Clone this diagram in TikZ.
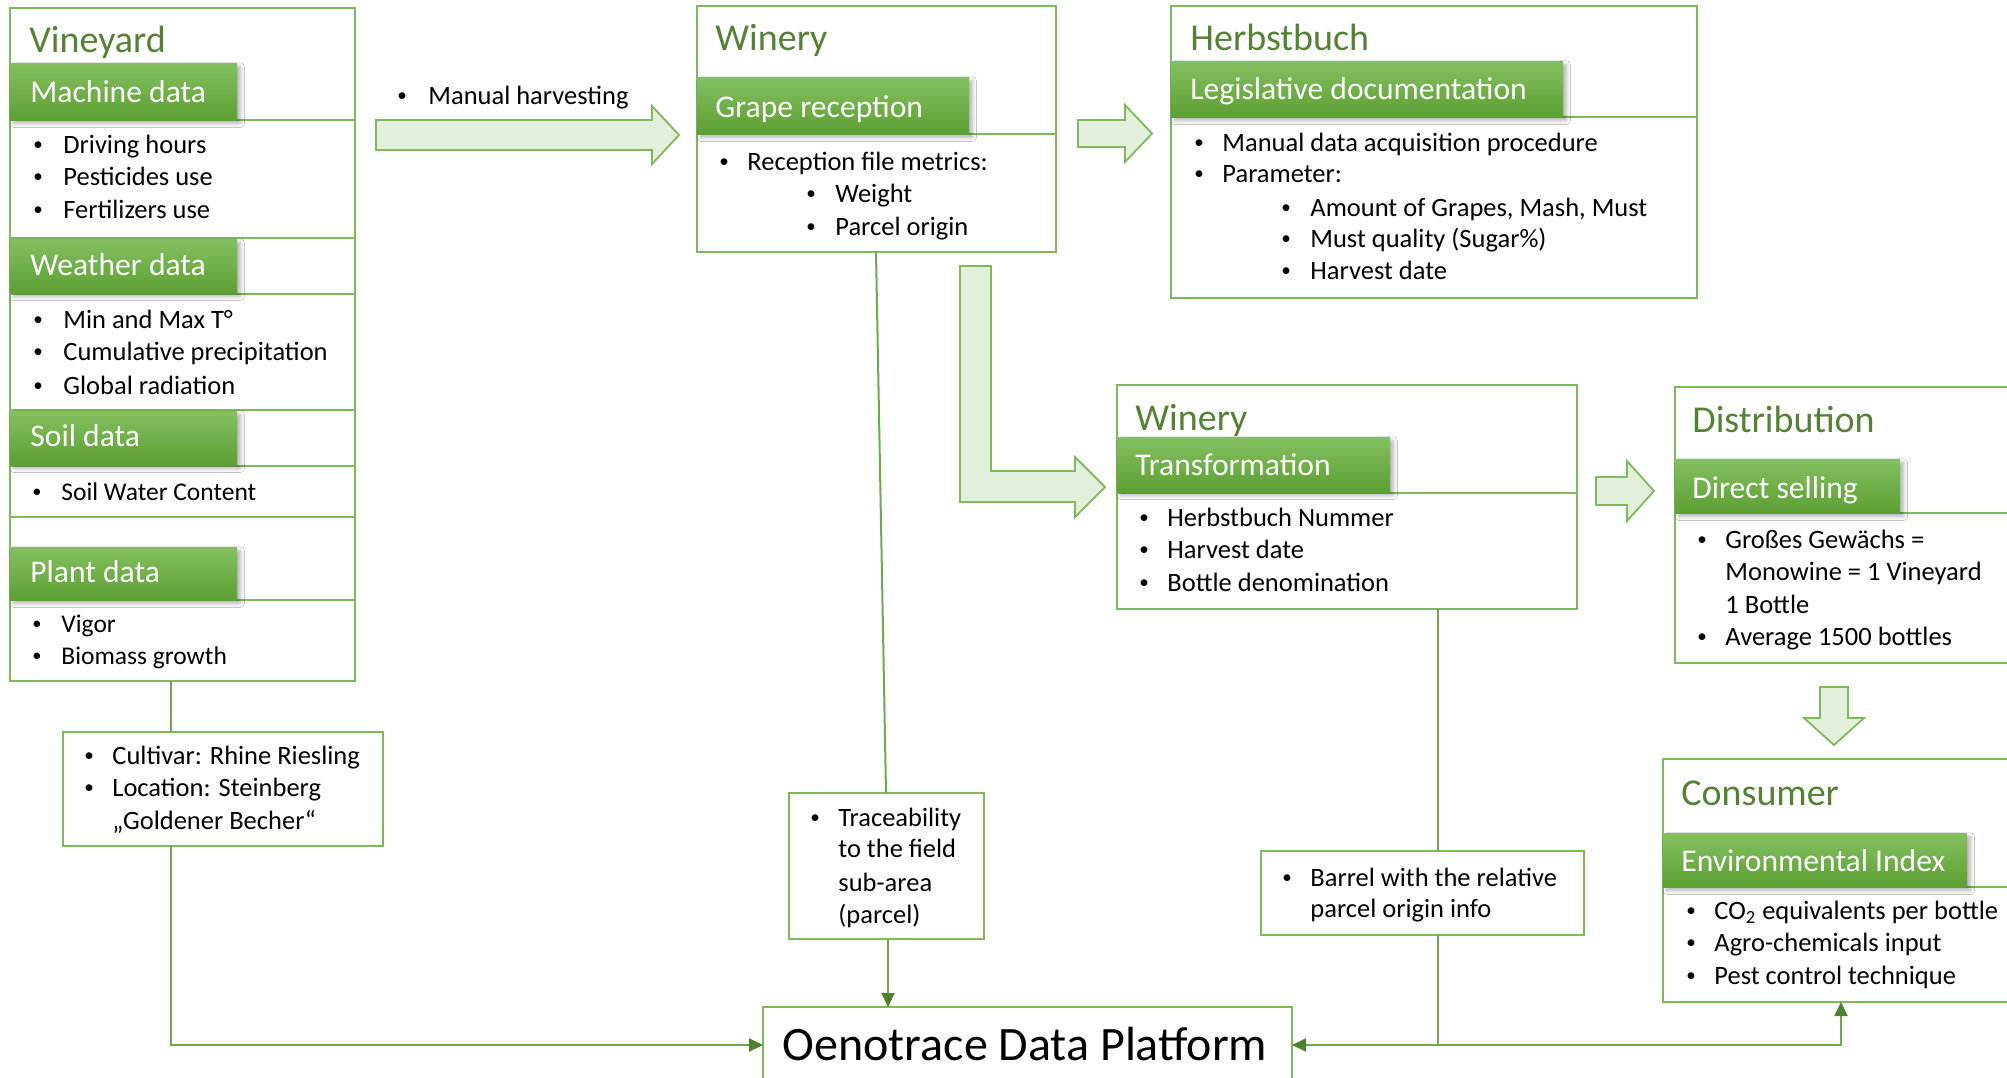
\documentclass[tikz,border=0pt]{standalone}
\usepackage{fontspec}
\setmainfont{Carlito}
\usetikzlibrary{arrows.meta,shadows.blur}
\definecolor{bord}{RGB}{125,186,90}
\definecolor{ttl}{RGB}{84,130,53}
\definecolor{bartop}{RGB}{132,192,96}
\definecolor{barbot}{RGB}{92,159,50}
\definecolor{afill}{RGB}{226,239,218}
\definecolor{aline}{RGB}{125,186,90}
\definecolor{conn}{RGB}{112,168,78}
\definecolor{tipc}{RGB}{78,128,45}
\newcounter{itm}
\newcommand\mkbox[6][]{\node[boxs,#1,minimum width={(#4-#2)*0.5pt},minimum height={(#5-#3)*0.5pt}] (#6) at (#2,#3) {};}
\newcommand\mkbar[5]{\node[barst,minimum width={(#3-#1)*0.5pt},minimum height={(#4-#2)*0.5pt}] (#5) at (#1,#2) {};}
\newcommand\smbul{\raisebox{0.1em}{\scalebox{0.72}{\textbullet}}}
\newcommand\itm[5][bod]{\stepcounter{itm}\node[#1] (bu\theitm) at (#2,#4) {\smbul};\node[#1] (it\theitm) at (#3,#4) {#5};}
\newcommand\ctn[4][bod]{\stepcounter{itm}\node[#1] (it\theitm) at (#2,#3) {#4};}
\tikzset{
  boxs/.style={rectangle,draw=bord,line width=0.9pt,fill=white,anchor=north west,inner sep=0pt,outer sep=0pt},
  barst/.style={rectangle,anchor=north west,inner sep=0pt,outer sep=0pt,top color=bartop,bottom color=barbot,
     blur shadow={shadow xshift=1.8pt,shadow yshift=-1.8pt,shadow opacity=30,shadow blur steps=6}},
  ttlt/.style={anchor=base west,inner sep=0pt,font=\fontsize{19}{23}\selectfont,text=ttl,yshift=-6.1pt},
  bart/.style={anchor=base west,inner sep=0pt,font=\fontsize{15.8}{19}\selectfont,text=white,yshift=-5.05pt},
  bod/.style={anchor=base west,inner sep=0pt,font=\fontsize{13.25}{16}\selectfont,yshift=-4.25pt},
  bods/.style={anchor=base west,inner sep=0pt,font=\fontsize{12.75}{15}\selectfont,yshift=-4.1pt},
  blk/.style={draw=aline,fill=afill,line width=0.9pt,line join=miter},
  cn/.style={draw=conn,line width=1pt},
  tp/.tip={Triangle[length=7pt,width=6.5pt,color=tipc]}
}
\begin{document}
\begin{tikzpicture}[x=0.5pt,y=-0.5pt]
\useasboundingbox (0,0) rectangle (2007,1077);
\clip (0,0) rectangle (2007,1077);
\fill[white] (0,0) rectangle (2007,1077);

% ---------- Vineyard ----------
\mkbox{10}{8}{355}{681}{vine}
\mkbox{10}{120}{355}{238}{mc}
\mkbox{10}{294}{355}{410}{wc}
\mkbox{10}{466}{355}{517}{sc}
\mkbox{10}{600}{355}{681}{pc}
\mkbar{10}{63}{237}{120}{mbar}
\mkbar{10}{239}{237}{293}{wbar}
\mkbar{10}{411}{237}{465}{sbar}
\mkbar{10}{547}{237}{600}{pbar}
\node[ttlt] (vineT) at (29,40) {Vineyard};
\node[bart] (mbarT) at (30,92) {Machine data};
\node[bart] (wbarT) at (30,265) {Weather data};
\node[bart] (sbarT) at (30,436) {Soil data};
\node[bart] (pbarT) at (30,572) {Plant data};
\itm{33}{63}{145}{Driving hours}
\itm{33}{63}{177}{Pesticides use}
\itm{33}{63}{210}{Fertilizers use}
\itm{33}{63}{320}{Min and Max T°}
\itm{33}{63}{352}{Cumulative precipitation}
\itm{33}{63}{386}{Global radiation}
\itm[bods]{32}{61}{492}{Soil Water Content}
\itm[bods]{32}{61}{624}{Vigor}
\itm[bods]{32}{61}{656}{Biomass growth}

% ---------- Cultivar ----------
\mkbox{63}{732}{383}{846}{cult}
\itm{84}{112}{756}{Cultivar: Rhine Riesling}
\itm{84}{112}{788}{Location: Steinberg}
\ctn{112}{821}{„Goldener Becher“}

% ---------- Manual harvesting arrow ----------
\itm{397}{428}{96}{Manual harvesting}
\draw[blk] (376,120) -- (652,120) -- (652,106) -- (679,135) -- (652,164) -- (652,150) -- (376,150) -- cycle;

% ---------- Winery (grape reception) ----------
\mkbox{697}{6}{1056}{252}{win1}
\mkbox{697}{134}{1056}{252}{gc}
\mkbar{697}{77}{969}{134}{gbar}
\node[ttlt] (win1T) at (715,38) {Winery};
\node[bart] (gbarT) at (715,107) {Grape reception};
\itm{719}{747}{162}{Reception file metrics:}
\itm{806}{835}{194}{Weight}
\itm{806}{835}{227}{Parcel origin}

% ---------- arrow to Herbstbuch ----------
\draw[blk] (1078,120) -- (1125,120) -- (1125,105) -- (1152,133.5) -- (1125,162) -- (1125,147) -- (1078,147) -- cycle;

% ---------- Herbstbuch ----------
\mkbox{1171}{6}{1697}{298}{herb}
\mkbox{1171}{117}{1697}{298}{lc}
\mkbar{1171}{61}{1563}{117}{lbar}
\node[ttlt] (herbT) at (1190,38) {Herbstbuch};
\node[bart] (lbarT) at (1190,89) {Legislative documentation};
\itm{1194}{1222}{143}{Manual data acquisition procedure}
\itm{1194}{1222}{174}{Parameter:}
\itm{1281}{1310}{208}{Amount of Grapes, Mash, Must}
\itm{1281}{1310}{239}{Must quality (Sugar\%)}
\itm{1281}{1310}{271}{Harvest date}

% ---------- L-shaped arrow ----------
\draw[blk] (960,266) -- (991,266) -- (991,471) -- (1075,471) -- (1075,457) -- (1105,487) -- (1075,517) -- (1075,502) -- (960,502) -- cycle;

% ---------- Winery (transformation) ----------
\mkbox{1117}{385}{1577}{609}{win2}
\mkbox{1117}{493}{1577}{609}{tc}
\mkbar{1117}{437}{1390}{492}{tbar}
\node[ttlt] (win2T) at (1135,418) {Winery};
\node[bart] (tbarT) at (1135,465) {Transformation};
\itm{1139}{1167}{518}{Herbstbuch Nummer}
\itm{1139}{1167}{550}{Harvest date}
\itm{1139}{1167}{583}{Bottle denomination}

% ---------- arrow to Distribution ----------
\draw[blk] (1596,477) -- (1627,477) -- (1627,461) -- (1654,491) -- (1627,521) -- (1627,505) -- (1596,505) -- cycle;

% ---------- Distribution ----------
\mkbox{1675}{387}{2030}{663}{dist}
\mkbox{1675}{513}{2030}{663}{dc}
\mkbar{1675}{459}{1900}{513}{dbar}
\node[ttlt] (distT) at (1692,420) {Distribution};
\node[bart] (dbarT) at (1692,488) {Direct selling};
\itm{1697}{1725}{540}{Großes Gewächs =}
\ctn{1725}{572}{Monowine = 1 Vineyard}
\ctn{1725}{605}{1 Bottle}
\itm{1697}{1725}{637}{Average 1500 bottles}

% ---------- down arrow ----------
\draw[blk] (1820,687) -- (1848,687) -- (1848,718) -- (1864,718) -- (1834,745) -- (1804,718) -- (1820,718) -- cycle;

% ---------- Consumer ----------
\mkbox{1663}{759}{2030}{1002}{cons}
\mkbox{1663}{887}{2030}{1002}{ec}
\mkbar{1663}{833}{1967}{887}{ebar}
\node[ttlt] (consT) at (1681,793) {Consumer};
\node[bart] (ebarT) at (1681,861) {Environmental Index};
\itm{1686}{1714}{911}{CO\textsubscript{2} equivalents per bottle}
\itm{1686}{1714}{943}{Agro-chemicals input}
\itm{1686}{1714}{976}{Pest control technique}

% ---------- Traceability ----------
\mkbox{789}{793}{984}{939}{trace}
\itm{810}{838}{818}{Traceability}
\ctn{838}{849}{to the field}
\ctn{838}{883}{sub-area}
\ctn{838}{915}{(parcel)}

% ---------- Barrel ----------
\mkbox{1261}{851}{1584}{935}{barrel}
\itm{1282}{1310}{878}{Barrel with the relative}
\ctn{1310}{909}{parcel origin info}

% ---------- Oenotrace ----------
\mkbox{763}{1007}{1292}{1083}{oeno}
\node[anchor=base,inner sep=0pt,font=\fontsize{24}{29}\selectfont,yshift=-7.7pt] (oenoT) at (1025,1045) {Oenotrace Data Platform};

% ---------- connectors ----------
\coordinate (vx) at (171,0);
\coordinate (tx1) at (876,0);
\coordinate (tx2) at (886,0);
\coordinate (tx3) at (888,0);
\coordinate (bx) at (1438,0);
\coordinate (cx) at (1841,0);
\draw[cn] (vine.south -| vx) -- (cult.north -| vx);
\draw[cn,-tp] (cult.south -| vx) |- (oeno.west);
\draw[cn] (win1.south -| tx1) -- (trace.north -| tx2);
\draw[cn,-tp] (trace.south -| tx3) -- (oeno.north -| tx3);
\draw[cn] (win2.south -| bx) -- (barrel.north -| bx);
\draw[cn] (barrel.south -| bx) -- (bx |- oeno.east);
\draw[cn,tp-tp] (oeno.east) -| (cons.south -| cx);
\end{tikzpicture}
\end{document}
